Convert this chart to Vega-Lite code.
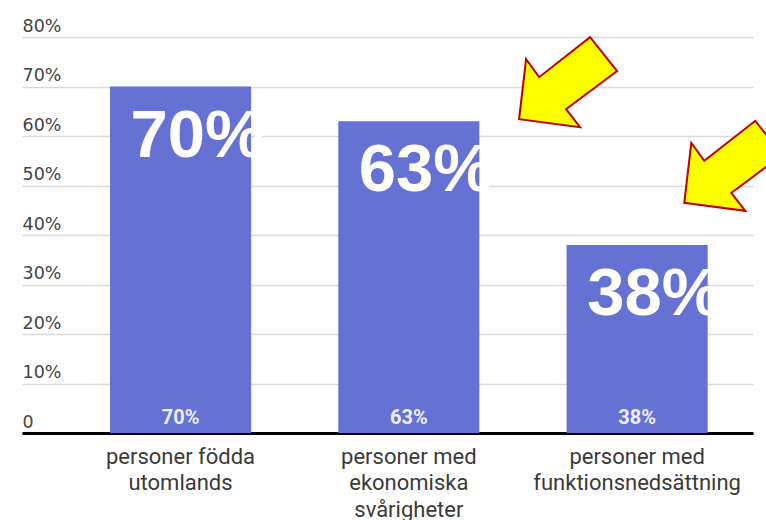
{
  "$schema": "https://vega.github.io/schema/vega-lite/v6.json",
  "autosize": {"type": "none"},
  "padding": {"left": 22, "top": 37, "right": 13, "bottom": 87},
  "width": 731,
  "height": 396,
  "background": "white",
  "config": {"view": {"stroke": null}},
  "resolve": {"scale": {"x": "independent"}},
  "layer": [
    {
      "data": {"values": [
        {"grupp": "personer födda\nutomlands", "andel": 70, "etikett": "70%"},
        {"grupp": "personer med\nekonomiska\nsvårigheter", "andel": 63, "etikett": "63%"},
        {"grupp": "personer med\nfunktionsnedsättning", "andel": 38, "etikett": "38%"}
      ]},
      "encoding": {
        "x": {
          "field": "grupp", "type": "nominal", "sort": null,
          "scale": {"paddingInner": 0.382, "paddingOuter": 0.292, "align": 0.66},
          "axis": {
            "title": null, "orient": "bottom", "labelAngle": 0,
            "domain": true, "domainColor": "#000000", "domainWidth": 3,
            "ticks": false, "tickSize": 0, "labelPadding": 13,
            "labelFont": "Roboto", "labelFontSize": 22, "labelColor": "#3a3a3a",
            "labelLineHeight": 26.5, "labelBaseline": "top", "labelLimit": 400,
            "labelExpr": "split(datum.label, '\\n')"
          }
        }
      },
      "layer": [
        {
          "mark": {"type": "bar", "color": "#6571d3"},
          "encoding": {
            "y": {
              "field": "andel", "type": "quantitative",
              "scale": {"domain": [0, 80], "nice": false, "zero": true},
              "axis": {
                "title": null, "orient": "left", "values": [0, 10, 20, 30, 40, 50, 60, 70, 80],
                "domain": false, "ticks": false, "tickSize": 0,
                "labelAlign": "left", "labelPadding": 0, "labelBaseline": "alphabetic", "labelOffset": -6,
                "labelFont": "DejaVu Sans", "labelFontSize": 17.5, "labelColor": "#444444",
                "labelExpr": "datum.value == 0 ? '0' : datum.value + '%'",
                "grid": true, "gridColor": "#dadada", "gridWidth": 1.5
              }
            }
          }
        },
        {
          "mark": {"type": "text", "baseline": "alphabetic", "align": "center", "dy": -9,
                   "font": "Roboto", "fontWeight": "bold", "fontSize": 20, "color": "#eeeef6"},
          "encoding": {
            "y": {"datum": 0, "type": "quantitative"},
            "text": {"field": "etikett"}
          }
        },
        {
          "mark": {"type": "text", "baseline": "alphabetic", "align": "left", "dx": -50, "dy": 70,
                   "font": "Liberation Sans", "fontWeight": "bold", "fontSize": 67, "color": "#ffffff"},
          "encoding": {
            "y": {"field": "andel", "type": "quantitative"},
            "text": {"field": "etikett"}
          }
        }
      ]
    },
    {
      "data": {"values": [
        {"px": 68.0, "andel": 63.4},
        {"px": 90.6, "andel": 46.5}
      ]},
      "mark": {
        "type": "point", "filled": true,
        "shape": "M0,0L7,-60L20,-42L71,-82L98,-48L47,-10L61,8Z",
        "size": 4, "fill": "#ffff00", "stroke": "#c00000", "strokeWidth": 2,
        "opacity": 1, "fillOpacity": 1, "strokeOpacity": 1, "strokeJoin": "miter"
      },
      "encoding": {
        "x": {"field": "px", "type": "quantitative", "scale": {"domain": [0, 100], "nice": false, "zero": false}, "axis": null},
        "y": {"field": "andel", "type": "quantitative"}
      }
    }
  ]
}
